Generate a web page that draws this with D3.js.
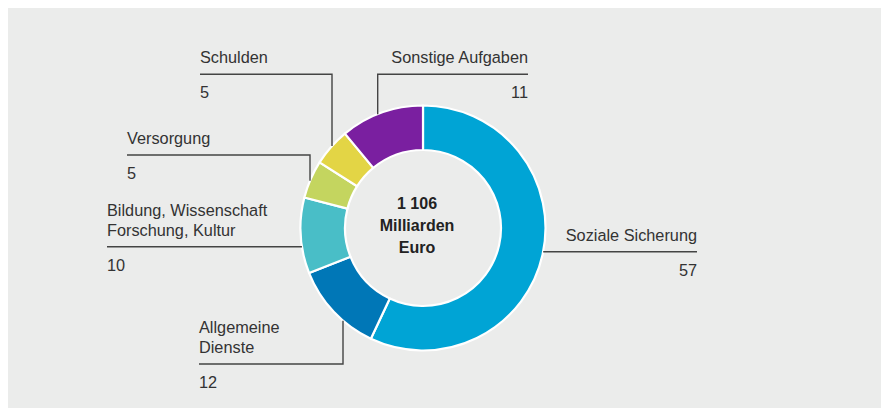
<!DOCTYPE html>
<html>
<head>
<meta charset="utf-8">
<script src="https://cdn.jsdelivr.net/npm/d3@7"></script>
<style>
  html, body { margin: 0; padding: 0; background: #ffffff; }
  svg { display: block; }
  text { font-family: "Liberation Sans", Arial, Helvetica, sans-serif; }
</style>
</head>
<body>
<svg id="chart" width="881" height="408"></svg>
<script>
// Ausgaben nach Aufgabenbereichen, Anteile in Prozent
const categories = [
  "Soziale Sicherung",
  "Allgemeine\nDienste",
  "Bildung, Wissenschaft\nForschung, Kultur",
  "Versorgung",
  "Schulden",
  "Sonstige Aufgaben"
];
const values = [57, 12, 10, 5, 5, 11];
const colors = ["#00a4d5", "#0077b7", "#49bec7", "#c4d55f", "#e3d545", "#7a1fa0"];
const centerLines = ["1 106", "Milliarden", "Euro"];

const W = 881, H = 408;
const cx = 423, cy = 228, R = 122.5, r = 78;
const labelSize = 16.3;

const svg = d3.select("#chart");

// grey panel
svg.append("rect")
  .attr("x", 8).attr("y", 8)
  .attr("width", W - 8).attr("height", H - 8)
  .attr("fill", "#ebeceb");

const g = svg.append("g").attr("transform", `translate(${cx},${cy})`);

const pie = d3.pie().sort(null).value(d => d.value);
const arc = d3.arc().innerRadius(r).outerRadius(R);
const data = categories.map((c, i) => ({ name: c, value: values[i], color: colors[i] }));
const arcs = pie(data);

g.selectAll("path.slice")
  .data(arcs)
  .join("path")
  .attr("class", "slice")
  .attr("d", arc)
  .attr("fill", d => d.data.color)
  .attr("stroke", "#ffffff")
  .attr("stroke-width", 2.2)
  .attr("stroke-linejoin", "round");

// centre caption
g.append("text")
  .attr("text-anchor", "middle")
  .attr("font-size", 16)
  .attr("font-weight", "bold")
  .attr("fill", "#222")
  .selectAll("tspan")
  .data(centerLines)
  .join("tspan")
  .attr("x", -6)
  .attr("y", (d, i) => -19 + i * 22)
  .text(d => d);

// leader line layout per slice (absolute coordinates)
// y: horizontal rule, x1/x2: rule extent, elbow: x of vertical drop to the ring
const layout = [
  { y: 251.7, x1: null, x2: 697, elbow: null, side: "right", tx: 697, anchor: "end" },
  { y: 364,   x1: 199, x2: 343, elbow: 343, side: "below", tx: 199, anchor: "start" },
  { y: 246.7, x1: 107, x2: null, elbow: null, side: "left", tx: 107, anchor: "start" },
  { y: 155,   x1: 127, x2: 310, elbow: 310, side: "above", tx: 127, anchor: "start" },
  { y: 74.3,  x1: 200, x2: 332, elbow: 332, side: "above", tx: 200, anchor: "start" },
  { y: 74.3,  x1: 377.7, x2: 528, elbow: 377.7, side: "above", tx: 528, anchor: "end" }
];

const lineColor = "#444";
const textColor = "#333";

arcs.forEach((a, i) => {
  const L = layout[i];
  let pts;
  if (L.elbow === null) {
    // horizontal rule meeting the ring
    const dy = L.y - cy;
    const dx = Math.sqrt(R * R - dy * dy);
    if (L.side === "right") pts = [[cx + dx, L.y], [L.x2, L.y]];
    else pts = [[L.x1, L.y], [cx - dx, L.y]];
  } else {
    const dx = L.elbow - cx;
    const dy = Math.sqrt(R * R - dx * dx);
    const ey = L.side === "below" ? cy + dy : cy - dy;
    if (L.elbow === L.x1) pts = [[L.x2, L.y], [L.x1, L.y], [L.elbow, ey]];
    else pts = [[L.x1, L.y], [L.x2, L.y], [L.elbow, ey]];
  }
  svg.append("path")
    .attr("d", d3.line()(pts))
    .attr("fill", "none")
    .attr("stroke", lineColor)
    .attr("stroke-width", 1.4);

  const nameLines = a.data.name.split("\n");
  const n = nameLines.length;
  svg.append("text")
    .attr("text-anchor", L.anchor)
    .attr("font-size", labelSize)
    .attr("fill", textColor)
    .selectAll("tspan")
    .data(nameLines)
    .join("tspan")
    .attr("x", L.tx)
    .attr("y", (d, k) => L.y - 11 - 20 * (n - 1 - k))
    .text(d => d);

  svg.append("text")
    .attr("x", L.tx)
    .attr("y", L.y + 24)
    .attr("text-anchor", L.anchor)
    .attr("font-size", labelSize)
    .attr("fill", textColor)
    .text(a.data.value);
});
</script>
</body>
</html>
